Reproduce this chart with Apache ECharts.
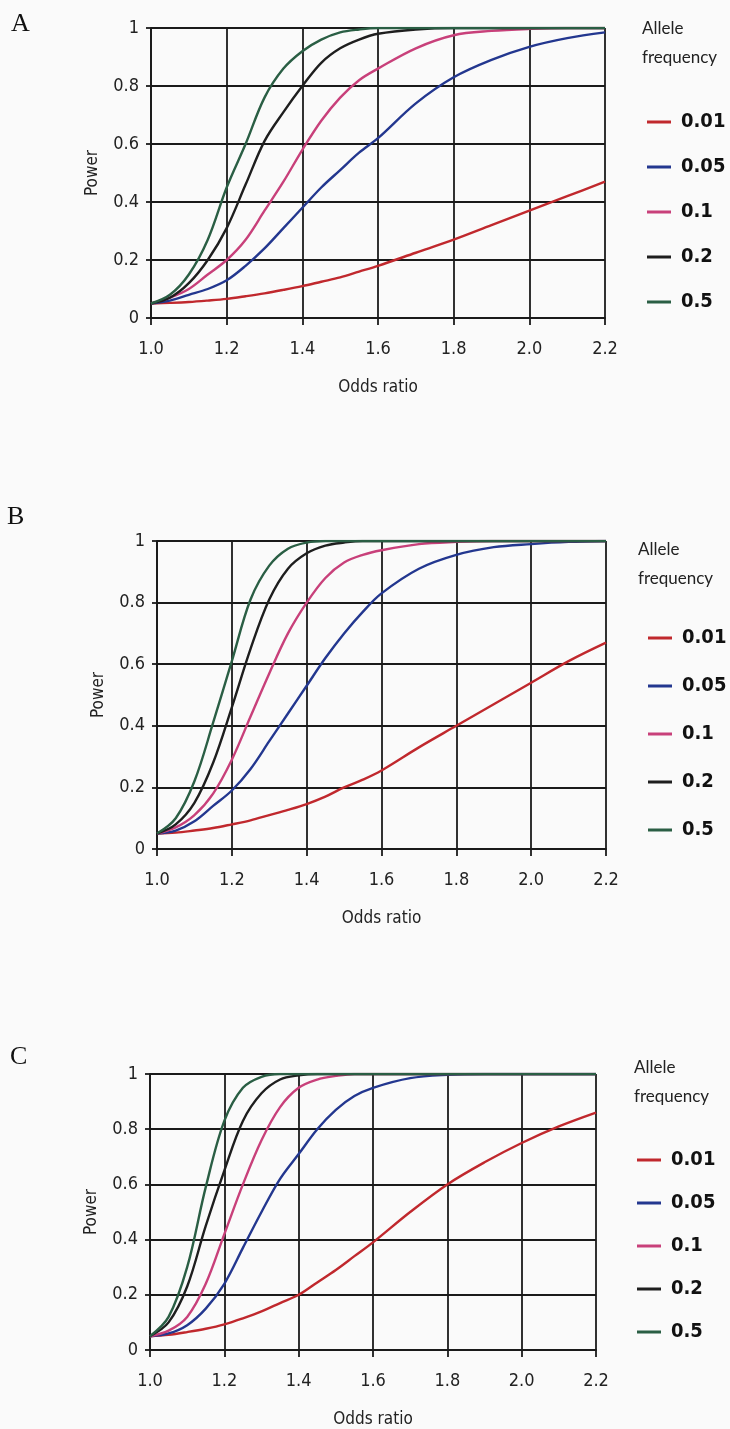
<!DOCTYPE html>
<html>
<head>
<meta charset="utf-8">
<script src="https://cdn.jsdelivr.net/npm/echarts@6/dist/echarts.min.js"></script>
<style>
  html, body { margin: 0; padding: 0; background: #fafafa; }
  #chart { width: 730px; height: 1429px; }
</style>
</head>
<body>
<div id="chart"></div>
<script>
// ---- Data ----
const panelLabels = ['A', 'B', 'C'];
const alleleFrequencies = ['0.01', '0.05', '0.1', '0.2', '0.5'];
const xTicks = [1.0, 1.2, 1.4, 1.6, 1.8, 2.0, 2.2];
const yTicks = [0, 0.2, 0.4, 0.6, 0.8, 1];
const oddsRatio = [1.0, 1.05, 1.1, 1.15, 1.2, 1.25, 1.3, 1.35, 1.4, 1.45, 1.5, 1.55, 1.6, 1.7, 1.8, 1.9, 2.0, 2.1, 2.2];

// Panel A
const powerA_001 = [0.05, 0.052, 0.055, 0.06, 0.066, 0.075, 0.085, 0.097, 0.11, 0.125, 0.14, 0.16, 0.18, 0.225, 0.27, 0.32, 0.37, 0.42, 0.47];
const powerA_005 = [0.05, 0.06, 0.08, 0.10, 0.13, 0.18, 0.24, 0.31, 0.38, 0.45, 0.51, 0.57, 0.62, 0.74, 0.83, 0.89, 0.935, 0.965, 0.985];
const powerA_01  = [0.05, 0.07, 0.10, 0.15, 0.20, 0.27, 0.37, 0.47, 0.58, 0.68, 0.76, 0.82, 0.86, 0.93, 0.975, 0.99, 0.997, 1, 1];
const powerA_02  = [0.05, 0.07, 0.12, 0.20, 0.31, 0.46, 0.61, 0.71, 0.80, 0.88, 0.93, 0.96, 0.98, 0.995, 1, 1, 1, 1, 1];
const powerA_05  = [0.05, 0.08, 0.15, 0.27, 0.45, 0.60, 0.76, 0.86, 0.92, 0.96, 0.985, 0.995, 1, 1, 1, 1, 1, 1, 1];

// Panel B
const powerB_001 = [0.05, 0.053, 0.06, 0.068, 0.08, 0.093, 0.11, 0.127, 0.146, 0.17, 0.20, 0.225, 0.255, 0.33, 0.40, 0.47, 0.54, 0.61, 0.67];
const powerB_005 = [0.05, 0.06, 0.09, 0.14, 0.19, 0.26, 0.35, 0.44, 0.53, 0.62, 0.70, 0.77, 0.83, 0.91, 0.955, 0.98, 0.99, 0.997, 1];
const powerB_01  = [0.05, 0.07, 0.11, 0.18, 0.29, 0.43, 0.57, 0.70, 0.80, 0.88, 0.93, 0.955, 0.97, 0.99, 0.997, 1, 1, 1, 1];
const powerB_02  = [0.05, 0.08, 0.15, 0.28, 0.46, 0.65, 0.81, 0.91, 0.96, 0.985, 0.995, 1, 1, 1, 1, 1, 1, 1, 1];
const powerB_05  = [0.05, 0.10, 0.22, 0.41, 0.61, 0.81, 0.92, 0.975, 0.995, 1, 1, 1, 1, 1, 1, 1, 1, 1, 1];

// Panel C
const powerC_001 = [0.05, 0.055, 0.065, 0.077, 0.093, 0.115, 0.14, 0.17, 0.20, 0.245, 0.29, 0.34, 0.39, 0.50, 0.60, 0.68, 0.75, 0.81, 0.86];
const powerC_005 = [0.05, 0.06, 0.09, 0.15, 0.24, 0.37, 0.50, 0.62, 0.71, 0.80, 0.87, 0.92, 0.95, 0.985, 0.997, 1, 1, 1, 1];
const powerC_01  = [0.05, 0.07, 0.12, 0.24, 0.42, 0.60, 0.76, 0.88, 0.95, 0.98, 0.993, 1, 1, 1, 1, 1, 1, 1, 1];
const powerC_02  = [0.05, 0.10, 0.23, 0.45, 0.65, 0.83, 0.93, 0.98, 0.995, 1, 1, 1, 1, 1, 1, 1, 1, 1, 1];
const powerC_05  = [0.05, 0.12, 0.30, 0.59, 0.83, 0.95, 0.99, 1, 1, 1, 1, 1, 1, 1, 1, 1, 1, 1, 1];

const panelData = [
  [powerA_001, powerA_005, powerA_01, powerA_02, powerA_05],
  [powerB_001, powerB_005, powerB_01, powerB_02, powerB_05],
  [powerC_001, powerC_005, powerC_01, powerC_02, powerC_05]
];

// ---- Styling / layout ----
const colors = ['#c0282d', '#23378f', '#c8407a', '#1e1e1e', '#2a5e44'];
const narrow = '"Liberation Sans Narrow", "Arial Narrow", "DejaVu Sans Condensed", "Liberation Sans", sans-serif';
const grids = [
  { left: 151, top: 28, width: 454, height: 290 },
  { left: 157, top: 541, width: 449, height: 308 },
  { left: 150, top: 1074, width: 446, height: 276 }
];
const legendPos = [
  { left: 647, top: 111, gap: 23 },
  { left: 648, top: 627, gap: 26 },
  { left: 637, top: 1149, gap: 21 }
];
const letterPos = [{ x: 11, y: 24 }, { x: 7, y: 517 }, { x: 10, y: 1057 }];
const allelePos = [{ x: 642, y: 29 }, { x: 638, y: 550 }, { x: 634, y: 1068 }];

const option = {
  backgroundColor: '#fafafa',
  animation: false,
  grid: grids.map(g => ({ left: g.left, top: g.top, width: g.width, height: g.height, containLabel: false })),
  xAxis: grids.map((g, i) => ({
    type: 'value', gridIndex: i,
    min: xTicks[0], max: xTicks[xTicks.length - 1], interval: 0.2,
    name: 'Odds ratio', nameLocation: 'middle', nameGap: 61,
    nameTextStyle: { fontFamily: narrow, fontSize: 17, color: '#222' },
    axisLine: { show: true, onZero: false, lineStyle: { color: '#1a1a1a', width: 1.8 } },
    axisTick: { show: true, inside: false, length: 7, lineStyle: { color: '#1a1a1a', width: 1.8 } },
    axisLabel: { margin: 22, fontFamily: narrow, fontSize: 18, color: '#222',
      formatter: v => v.toFixed(1) },
    splitLine: { show: true, lineStyle: { color: '#1a1a1a', width: 1.8 } }
  })),
  yAxis: grids.map((g, i) => ({
    type: 'value', gridIndex: i,
    min: yTicks[0], max: yTicks[yTicks.length - 1], interval: 0.2,
    name: 'Power', nameLocation: 'middle', nameGap: 50, nameRotate: 90,
    nameTextStyle: { fontFamily: narrow, fontSize: 17, color: '#222' },
    axisLine: { show: true, onZero: false, lineStyle: { color: '#1a1a1a', width: 1.8 } },
    axisTick: { show: true, inside: false, length: 5, lineStyle: { color: '#1a1a1a', width: 1.8 } },
    axisLabel: { margin: 12, fontFamily: narrow, fontSize: 18, color: '#222',
      formatter: v => (v === 0 || v === 1) ? String(v) : v.toFixed(1) },
    splitLine: { show: true, lineStyle: { color: '#1a1a1a', width: 1.8 } }
  })),
  legend: legendPos.map(p => ({
    data: alleleFrequencies,
    orient: 'vertical', left: p.left, top: p.top, padding: 0,
    itemWidth: 24, itemHeight: 3, itemGap: p.gap, icon: 'rect',
    selectedMode: false,
    textStyle: { fontFamily: narrow, fontSize: 20, fontWeight: 'bold', color: '#111', lineHeight: 22, padding: [0, 0, 0, 5] }
  })),
  series: [],
  graphic: []
};

panelData.forEach((arrs, pi) => {
  arrs.forEach((vals, si) => {
    option.series.push({
      type: 'line', name: alleleFrequencies[si],
      xAxisIndex: pi, yAxisIndex: pi,
      data: oddsRatio.map((x, k) => [x, vals[k]]),
      smooth: 0.35, showSymbol: false, symbol: 'none',
      lineStyle: { color: colors[si], width: 2.4 },
      itemStyle: { color: colors[si] },
      clip: true, z: 3 + si
    });
  });
  option.graphic.push({
    type: 'text', x: letterPos[pi].x, y: letterPos[pi].y,
    style: { text: panelLabels[pi], fontFamily: '"Liberation Serif", "DejaVu Serif", serif', fontSize: 26,
      fill: '#111', align: 'left', verticalAlign: 'middle' }
  });
  option.graphic.push({
    type: 'text', x: allelePos[pi].x, y: allelePos[pi].y,
    style: { text: 'Allele', fontFamily: 'Lato, "Open Sans", sans-serif', fontSize: 17,
      fill: '#222', align: 'left', verticalAlign: 'middle' }
  });
  option.graphic.push({
    type: 'text', x: allelePos[pi].x, y: allelePos[pi].y + 29,
    style: { text: 'frequency', fontFamily: 'Lato, "Open Sans", sans-serif', fontSize: 17,
      fill: '#222', align: 'left', verticalAlign: 'middle' }
  });
});

const chart = echarts.init(document.getElementById('chart'), null, { renderer: 'canvas' });
chart.setOption(option);
</script>
</body>
</html>
